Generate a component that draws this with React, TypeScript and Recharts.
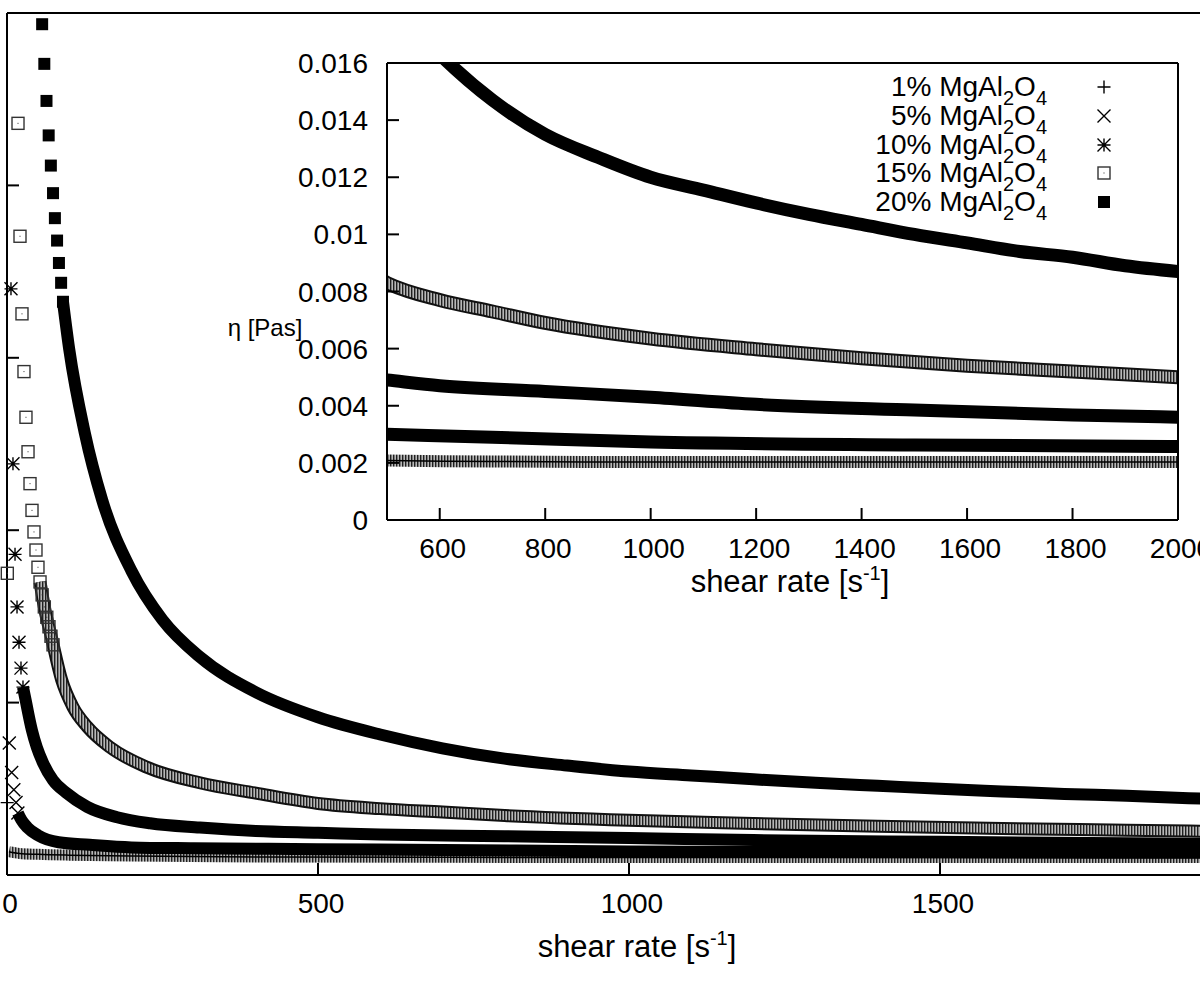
import { ComposedChart, Line, Scatter, XAxis, YAxis, Legend, Label } from 'recharts';

const FONT = '"Liberation Sans", Arial, Helvetica, sans-serif';
const INK = '#000';

// shear rate [1/s] and viscosity [Pa s].
// "Marks" are the separate symbols at low shear, "Band" is the dense part.
const shear1Marks = [0.3];
const eta1Marks = [0.0084];
const shear1Band = [3, 20, 50, 100, 200, 400, 700, 1000, 1500, 2000];
const eta1Band = [0.0027, 0.0025, 0.0024, 0.0023, 0.0022, 0.0021, 0.00205, 0.00203, 0.00203, 0.00203];

const shear5Marks = [3.7, 7.5, 11, 14.5, 17.5];
const eta5Marks = [0.0153, 0.0119, 0.0099, 0.0084, 0.0072];
const shear5Band = [17.5, 23, 33, 50, 83, 133, 200, 300, 500, 700, 1000, 1500, 2000];
const eta5Band = [0.0072, 0.0064, 0.0055, 0.0046, 0.0038, 0.0035, 0.0032, 0.0031, 0.003, 0.0029, 0.00273, 0.00263, 0.00257];

const shear10Marks = [6.4, 9.6, 12.9, 16.1, 19.3, 22.5, 25.7];
const eta10Marks = [0.068, 0.0477, 0.0372, 0.0311, 0.027, 0.024, 0.0218];
const shear10Band = [25.7, 30.5, 34, 40, 48, 58, 74, 96, 129, 177, 230, 310, 400, 500, 600, 800, 1000, 1200, 1500, 1800, 2000];
const eta10Band = [0.0218, 0.0201, 0.0188, 0.0168, 0.0148, 0.013, 0.011, 0.0095, 0.0079, 0.0067, 0.006, 0.0055, 0.0051, 0.0049, 0.0047, 0.0045, 0.0043, 0.00405, 0.00385, 0.00368, 0.0036];

const shear15Marks = [0.5, 17.7, 20.9, 24.1, 27.3, 30.5, 33.8, 37, 40.2, 43.4, 46.6, 49.8, 53.1, 56.5, 60, 64, 67.5, 70.7, 74];
const eta15Marks = [0.035, 0.0872, 0.0741, 0.0651, 0.0584, 0.0531, 0.0491, 0.0454, 0.0423, 0.0398, 0.0377, 0.0357, 0.034, 0.0325, 0.0311, 0.0299, 0.0288, 0.0277, 0.0267];
const shear15Band = [53.1, 60, 71, 88, 106, 129, 166, 225, 310, 400, 500, 600, 700, 800, 1000, 1200, 1400, 1600, 1800, 2000];
const eta15Band = [0.034, 0.0311, 0.0277, 0.0226, 0.0195, 0.0172, 0.0148, 0.0125, 0.0107, 0.0095, 0.0083, 0.0077, 0.0073, 0.0069, 0.00635, 0.00598, 0.00566, 0.0054, 0.0052, 0.005];

const shear20Marks = [56.5, 60, 63.5, 67, 70.5, 74, 77, 80.5, 83.5, 87, 90];
const eta20Marks = [0.0987, 0.0941, 0.0898, 0.0858, 0.0823, 0.0791, 0.0762, 0.0736, 0.071, 0.0687, 0.0665];
const shear20Band = [90, 100, 125, 153, 200, 250, 310, 400, 500, 600, 700, 800, 900, 1000, 1100, 1200, 1300, 1400, 1500, 1600, 1700, 1800, 1900, 2000];
const eta20Band = [0.0665, 0.061, 0.0513, 0.0435, 0.0353, 0.0296, 0.0253, 0.0212, 0.0183, 0.0163, 0.0147, 0.0135, 0.0127, 0.012, 0.01155, 0.0111, 0.0107, 0.01035, 0.01, 0.0097, 0.0094, 0.0092, 0.0089, 0.0087];

const mainShearTicks = [0, 500, 1000, 1500];
const mainEtaTicks = [0, 0.02, 0.04, 0.06, 0.08, 0.1];
const insetShearTicks = [600, 800, 1000, 1200, 1400, 1600, 1800, 2000];
const insetEtaTicks = [0, 0.002, 0.004, 0.006, 0.008, 0.01, 0.012, 0.014, 0.016];

const labels = ['1%', '5%', '10%', '15%', '20%'];

type Kind = 'plus' | 'cross' | 'star' | 'open' | 'filled';
type BandStyle = 'hatch' | 'solid' | 'edged';

const toPoints = (xs: number[], ys: number[]) => xs.map((x, i) => ({ x, y: ys[i] }));

const series: { name: string; kind: Kind; band: BandStyle; marks: { x: number; y: number }[]; line: { x: number; y: number }[] }[] = [
  { name: labels[0], kind: 'plus', band: 'hatch', marks: toPoints(shear1Marks, eta1Marks), line: toPoints(shear1Band, eta1Band) },
  { name: labels[1], kind: 'cross', band: 'solid', marks: toPoints(shear5Marks, eta5Marks), line: toPoints(shear5Band, eta5Band) },
  { name: labels[2], kind: 'star', band: 'solid', marks: toPoints(shear10Marks, eta10Marks), line: toPoints(shear10Band, eta10Band) },
  { name: labels[3], kind: 'open', band: 'edged', marks: toPoints(shear15Marks, eta15Marks), line: toPoints(shear15Band, eta15Band) },
  { name: labels[4], kind: 'filled', band: 'solid', marks: toPoints(shear20Marks, eta20Marks), line: toPoints(shear20Band, eta20Band) },
];

function Marker({ kind, cx, cy, r = 6.5 }: { kind: Kind; cx: number; cy: number; r?: number }) {
  const plus = `M${cx - r},${cy}H${cx + r}M${cx},${cy - r}V${cy + r}`;
  const cross = `M${cx - r},${cy - r}L${cx + r},${cy + r}M${cx - r},${cy + r}L${cx + r},${cy - r}`;
  if (kind === 'plus') return <path d={plus} stroke={INK} strokeWidth={1.4} fill="none" />;
  if (kind === 'cross') return <path d={cross} stroke={INK} strokeWidth={1.4} fill="none" />;
  if (kind === 'star') return <path d={plus + cross} stroke={INK} strokeWidth={1.4} fill="none" />;
  if (kind === 'open')
    return (
      <g>
        <rect x={cx - r + 0.5} y={cy - r + 0.5} width={2 * r - 1} height={2 * r - 1} fill="none" stroke="#333" strokeWidth={1.4} />
        <rect x={cx - 0.5} y={cy - 0.5} width={1} height={1} fill="#333" />
      </g>
    );
  return <rect x={cx - r + 0.5} y={cy - r + 0.5} width={2 * r - 1} height={2 * r - 1} fill={INK} />;
}

const frame = { stroke: INK, strokeWidth: 2 };
const TICK = 12;

const bottomTick = (p: any) => (
  <g>
    <line x1={p.x} y1={p.y} x2={p.x} y2={p.y - TICK} stroke={INK} strokeWidth={2} />
    <text x={p.x + 3} y={p.y + 38} textAnchor="middle" fontFamily={FONT} fontSize={28} fill={INK}>
      {p.payload.value}
    </text>
  </g>
);
const topTick = (p: any) => <line x1={p.x} y1={p.y} x2={p.x} y2={p.y + TICK} stroke={INK} strokeWidth={2} />;
const leftTickBare = (p: any) => <line x1={p.x} y1={p.y} x2={p.x + TICK} y2={p.y} stroke={INK} strokeWidth={2} />;
const rightTick = (p: any) => <line x1={p.x} y1={p.y} x2={p.x - TICK} y2={p.y} stroke={INK} strokeWidth={2} />;
const leftTickLabel = (p: any) => (
  <g>
    <line x1={p.x} y1={p.y} x2={p.x + TICK} y2={p.y} stroke={INK} strokeWidth={2} />
    <text x={p.x - 19} y={p.y + 10} textAnchor="end" fontFamily={FONT} fontSize={28} fill={INK}>
      {String(+Number(p.payload.value).toFixed(3))}
    </text>
  </g>
);

function ShearTitle({ x, y }: { x: number; y: number }) {
  return (
    <text x={x} y={y} textAnchor="middle" fontFamily={FONT} fontSize={31} fill={INK}>
      shear rate [s
      <tspan dy={-12} fontSize={20}>-1</tspan>
      <tspan dy={12}>]</tspan>
    </text>
  );
}

function Hatch({ id }: { id: string }) {
  return (
    <defs>
      <pattern id={id} width={3} height={4} patternUnits="userSpaceOnUse">
        <rect width={3} height={4} fill="#b8b8b8" />
        <rect width={1.4} height={4} fill="#202020" />
      </pattern>
    </defs>
  );
}

function bands(hatchId: string, width: number) {
  return series.flatMap((s) => {
    const common = {
      xAxisId: 'b',
      yAxisId: 'l',
      data: s.line,
      dataKey: 'y',
      type: 'monotone' as const,
      dot: false,
      activeDot: false,
      isAnimationActive: false,
      legendType: 'none' as const,
    };
    if (s.band === 'hatch')
      return [
        <Line key={s.name + 'a'} {...common} stroke={`url(#${hatchId})`} strokeWidth={width - 1} />,
        <Line key={s.name + 'b'} {...common} stroke={INK} strokeWidth={1.5} />,
      ];
    if (s.band === 'edged')
      return [
        <Line key={s.name + 'a'} {...common} stroke="#111" strokeWidth={width + 1} />,
        <Line key={s.name + 'b'} {...common} stroke={`url(#${hatchId})`} strokeWidth={width - 3} />,
      ];
    return [<Line key={s.name + 'a'} {...common} stroke={INK} strokeWidth={width} />];
  });
}

function MainChart() {
  return (
    <ComposedChart width={1300} height={983} margin={{ top: 12, right: 49, bottom: 0, left: 6 }}>
      <Hatch id="hatchMain" />
      <XAxis
        xAxisId="b"
        dataKey="x"
        type="number"
        domain={[0, 2000]}
        ticks={mainShearTicks}
        interval={0}
        height={108}
        axisLine={frame}
        tickLine={false}
        tickSize={0}
        tickMargin={0}
        tick={bottomTick}
      >
        <Label content={() => <ShearTitle x={637} y={957} />} />
      </XAxis>
      <XAxis
        xAxisId="t"
        orientation="top"
        type="number"
        domain={[0, 2000]}
        ticks={mainShearTicks}
        interval={0}
        height={1}
        axisLine={frame}
        tickLine={false}
        tickSize={0}
        tickMargin={0}
        tick={topTick}
      />
      <YAxis
        yAxisId="l"
        type="number"
        domain={[0, 0.1]}
        ticks={mainEtaTicks}
        interval={0}
        width={1}
        axisLine={frame}
        tickLine={false}
        tickSize={0}
        tickMargin={0}
        tick={leftTickBare}
      />
      {bands('hatchMain', 12)}
      {series.map((s) => (
        <Scatter
          key={s.name + 'm'}
          xAxisId="b"
          yAxisId="l"
          data={s.marks}
          dataKey="y"
          isAnimationActive={false}
          legendType="none"
          shape={(p: any) => <Marker kind={s.kind} cx={p.cx} cy={p.cy} />}
        />
      ))}
    </ComposedChart>
  );
}

function LegendBox() {
  const rowH = 28.75;
  return (
    <div style={{ position: 'relative', width: 330, height: 150, fontFamily: FONT, fontSize: 28, color: INK }}>
      {series.map((s, i) => (
        <div key={s.name} style={{ position: 'absolute', left: 0, top: i * rowH, width: 330, height: rowH }}>
          <div style={{ position: 'absolute', right: 83, top: 0, lineHeight: `${rowH}px`, whiteSpace: 'nowrap' }}>
            {s.name} MgAl
            <span style={{ fontSize: 20, position: 'relative', top: 9 }}>2</span>O
            <span style={{ fontSize: 20, position: 'relative', top: 9 }}>4</span>
          </div>
          <svg style={{ position: 'absolute', left: 294, top: 4 }} width={20} height={20}>
            <Marker kind={s.kind} cx={10} cy={10} />
          </svg>
        </div>
      ))}
    </div>
  );
}

function InsetChart() {
  return (
    <ComposedChart width={1200} height={983} margin={{ top: 62, right: 21, bottom: 383, left: 287 }}>
      <Hatch id="hatchInset" />
      <XAxis
        xAxisId="b"
        dataKey="x"
        type="number"
        domain={[500, 2000]}
        allowDataOverflow
        ticks={insetShearTicks}
        interval={0}
        height={80}
        axisLine={frame}
        tickLine={false}
        tickSize={0}
        tickMargin={0}
        tick={bottomTick}
      >
        <Label content={() => <ShearTitle x={790} y={592} />} />
      </XAxis>
      <XAxis
        xAxisId="t"
        orientation="top"
        type="number"
        domain={[500, 2000]}
        ticks={insetShearTicks}
        interval={0}
        height={1}
        axisLine={frame}
        tickLine={false}
        tickSize={0}
        tickMargin={0}
        tick={topTick}
      />
      <YAxis
        yAxisId="l"
        type="number"
        domain={[0, 0.016]}
        allowDataOverflow
        ticks={insetEtaTicks}
        interval={0}
        width={100}
        axisLine={frame}
        tickLine={false}
        tickSize={0}
        tickMargin={0}
        tick={leftTickLabel}
      >
        <Label
          content={() => (
            <text x={265} y={336} textAnchor="middle" fontFamily={FONT} fontSize={24} fill={INK}>
              η [Pas]
            </text>
          )}
        />
      </YAxis>
      <YAxis
        yAxisId="r"
        orientation="right"
        type="number"
        domain={[0, 0.016]}
        ticks={insetEtaTicks}
        interval={0}
        width={1}
        axisLine={frame}
        tickLine={false}
        tickSize={0}
        tickMargin={0}
        tick={rightTick}
      />
      {bands('hatchInset', 13)}
      <Legend
        layout="vertical"
        align="center"
        verticalAlign="middle"
        content={() => <LegendBox />}
        wrapperStyle={{ left: 800, top: 73, width: 330, height: 150 }}
      />
    </ComposedChart>
  );
}

export default function App() {
  return (
    <div style={{ position: 'fixed', left: 0, top: 0, width: 1200, height: 983, overflow: 'hidden', background: '#fff' }}>
      <div style={{ position: 'absolute', left: 0, top: 0 }}>
        <MainChart />
      </div>
      <div style={{ position: 'absolute', left: 0, top: 0 }}>
        <InsetChart />
      </div>
    </div>
  );
}
